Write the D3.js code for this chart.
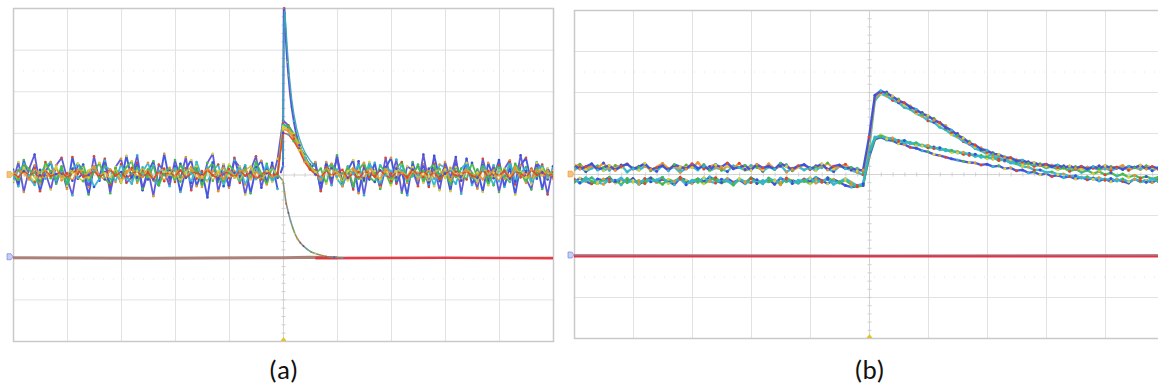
<!DOCTYPE html>
<html>
<head>
<meta charset="utf-8">
<script src="https://cdn.jsdelivr.net/npm/d3@7"></script>
<style>
  html, body { margin: 0; background: #ffffff; }
  svg { display: block; }
</style>
</head>
<body>
<svg id="chart" width="1158" height="390"></svg>
<script>
// Units: time and amplitude in hundredths of a screen division.
const sampleStart = -500;
const sampleStep = 10;

const xDivisions = [-500, -400, -300, -200, -100, 0, 100, 200, 300, 400, 500];
const yDivisions = [-400, -300, -200, -100, 0, 100, 200, 300, 400];
const panelLabels = ["(a)", "(b)"];

// ---- Panel (a): upper channel, overlaid acquisitions ----
const aBlue = [
  12, -28, 35, -8, 22, -40, 6, 30, -22, 15,
  -35, 42, -10, 4, -48, 18, -5, 38, -30, 10,
  -20, 45, -12, 28, -38, 5, 32, -25, 50, -15,
  20, -42, 12, 35, -28, 8, -55, 30, -18, 25,
  -32, 40, -8, 22, -45, 15, 33, -20, 28, -35,
  null, null, null, null, null, null, 25, -38, 30, -15,
  42, -28, 10, 35, -45, 20, -12, 28, -35, 15,
  40, -22, 8, -50, 30, -18, 25, -30, 45, -10,
  20, -40, 32, -15, 38, -25, 12, -42, 28, -8,
  35, -30, 18, -48, 22, 40, -20, 30, -35, 15,
  -10
];
const aViolet = [
  -18, 30, -42, 14, 48, -25, 5, -36, 22, 40,
  -8, -50, 26, 10, -30, 44, -15, 33, -45, 18,
  38, -20, -6, 46, -34, 12, -52, 24, 8, -28,
  35, -12, 42, -38, 16, -22, 28, 50, -40, 6,
  -26, 34, 18, -48, 10, 44, -32, 20, -14, 38,
  130, 118, 96, 64, 48, 12, 30, -40, 22, -26,
  46, -18, 14, -36, 32, -50, 24, 8, -30, 40,
  -12, 36, -44, 20, 10, -28, 48, -22, 16, -38,
  30, -8, 42, -46, 26, 4, -34, 38, -16, 22,
  -42, 14, 34, -24, 46, -10, -36, 28, 12, -48,
  20
];
const aCyan = [
  -15, 10, 22, -8, -25, 5, 18, 30, -12, 2,
  -20, 14, 26, -5, 8, -30, -10, 20, 12, -18,
  25, -4, -22, 16, 6, 28, -14, -26, 10, 3,
  -8, 22, 15, -20, 30, -6, -16, 8, 24, -28,
  12, -2, 20, -24, 6, 18, -10, 26, -18, 4,
  122, 112, 90, 66, 44, 16, 10, -20, 15, 25,
  -10, -28, 12, 4, 22, -16, 30, -6, -24, 18,
  8, -12, 26, -20, 2, 20, -14, 10, -28, 24,
  16, -8, -22, 14, 28, -4, -18, 22, 6, -26,
  12, -10, 30, -16, 4, 18, -22, 8, 24, -12,
  14
];
const aGreen = [
  8, -18, 26, 12, -6, -22, 30, 4, -14, 20,
  -28, 10, 2, 24, -16, 6, 28, -10, -24, 14,
  -4, 18, 32, -20, 10, -12, 22, -26, 6, 16,
  -18, 26, -8, 4, 20, -30, 12, 28, -6, -16,
  24, 8, -20, 14, -10, 30, 2, -24, 18, -8,
  118, 116, 98, 74, 36, 24, 2, 14, -22, 26,
  6, -14, 20, -28, 10, 28, -6, -18, 22, 4,
  -26, 16, 30, -10, -4, 24, -20, 12, 26, -16,
  8, -24, 18, 2, -12, 28, -8, 20, -26, 10,
  22, -4, -18, 26, 6, -20, 14, -10, 18, -2,
  8
];
const aYellow = [
  7, -12, 16, -3, -18, 11, 4, -9, 19, -14,
  2, 13, -7, -16, 9, 20, -5, 6, -11, 15,
  -19, 3, 12, -8, 17, -2, -13, 8, 14, -6,
  10, -17, 5, 18, -10, -1, 13, -15, 7, 16,
  -9, 4, -14, 11, 19, -6, -12, 3, 15, -4,
  115, 108, 94, 70, 40, 20, 6, -10, 17, -3,
  12, -18, 8, 15, -7, -13, 19, 2, -11, 10,
  -16, 14, 5, -4, 18, -12, 9, -19, 6, 13,
  -8, 16, -2, -14, 11, 3, -17, 12, 7, -9,
  15, -5, -12, 18, -1, 9, -15, 4, 14, -7,
  6
];
const aOrange = [
  -5, 10, 4, -12, 15, -2, -10, 8, 14, -6,
  2, -15, 12, 6, -8, 18, -4, -12, 10, 3,
  -14, 8, 16, -6, 0, 12, -10, 5, -16, 9,
  14, -4, -8, 11, 4, -14, 17, -2, 7, -11,
  13, -7, 2, 15, -12, 6, -3, 10, -9, 4,
  110, 104, 86, 62, 34, 14, 4, -12, 9, 15,
  -5, 3, -14, 11, 6, -9, 16, -3, -11, 13,
  2, -7, 10, -15, 8, 4, -6, 14, -10, 1,
  12, -13, 7, -2, 16, -8, 5, -12, 9, 3,
  -16, 11, -4, 13, -7, 6, -10, 15, -3, 8,
  -5
];
const aRed = [
  3, -6, 8, -2, 5, -9, 10, -4, 1, 7,
  -8, 4, 11, -5, -1, 9, -7, 3, 12, -3,
  6, -10, 2, 8, -6, 4, -12, 9, -1, 5,
  -4, 10, -8, 2, 7, -5, 11, -2, -9, 6,
  3, -7, 9, -3, 5, -11, 1, 8, -4, 2,
  100, 96, 80, 58, 30, 12, 0, -6, 9, -3,
  5, 11, -8, 2, -10, 7, 4, -5, 10, -2,
  -9, 6, 3, -7, 12, -1, 8, -4, 5, -11,
  2, 9, -6, 1, 7, -3, -8, 10, -5, 4,
  -2, 8, -10, 6, 3, -7, 11, -1, 5, -4,
  2
];
// fast spike captured at finer time resolution: [time, amplitude]
const aSpikeBlue = [
  [-4, 5], [0, 20], [0.5, 160], [1, 300], [1.5, 400], [2.5, 400], [3, 388],
  [4, 356], [6, 310], [8, 270], [10, 238], [13, 195], [16, 162], [20, 128],
  [24, 100], [28, 80], [34, 58], [40, 42], [46, 30], [52, 18], [60, 25]
];
const aSpikeCyan = [
  [0, 30], [1, 250], [2, 360], [3, 392], [5, 362], [8, 300], [12, 232],
  [16, 182], [20, 146], [25, 112], [30, 88], [36, 66], [42, 50], [50, 34], [60, 18]
];
// lower channel: decay from the upper level down to its own level
const aFall = [
  [-10, 0], [0, -15], [3, -45], [6, -70], [10, -92], [14, -112], [18, -128],
  [22, -142], [27, -155], [32, -164], [38, -172], [45, -180], [52, -186],
  [60, -190], [70, -194], [80, -197], [95, -199], [110, -200]
];
const aLowerBrown = [[-500, -200], [-250, -201], [0, -200], [50, -199], [100, -200]];
const aLowerRed = [[60, -201], [300, -200], [500, -201]];

// ---- Panel (b): upper channel, overlaid acquisitions ----
const bUpperLarge = [
  22, 12, 18, 25, 10, 16, 21, 9, 19, 24,
  13, 17, 26, 11, 15, 20, 8, 23, 18, 12,
  25, 14, 19, 10, 22, 17, 27, 13, 16, 21,
  9, 24, 15, 19, 12, 26, 18, 11, 20, 23,
  14, 17, 25, 10, 19, 22, 13, 16, 8, 10,
  90, 192, 203, 196, 190, 178, 174, 163, 158, 146,
  143, 131, 126, 113, 107, 94, 88, 75, 71, 60,
  58, 49, 48, 40, 40, 32, 34, 26, 28, 21,
  24, 18, 22, 15, 20, 14, 19, 12, 18, 13,
  21, 14, 17, 11, 19, 15, 22, 12, 18, 14,
  20
];
const bUpperOrange = [
  18, 24, 11, 20, 14, 27, 9, 21, 16, 25,
  12, 19, 23, 8, 17, 26, 13, 20, 10, 22,
  15, 28, 12, 18, 24, 9, 19, 14, 26, 11,
  21, 16, 10, 25, 13, 19, 23, 8, 17, 22,
  11, 20, 15, 27, 12, 18, 24, 10, 14, 6,
  75, 186, 199, 200, 185, 183, 168, 166, 152, 150,
  137, 136, 120, 118, 101, 99, 82, 80, 66, 64,
  53, 52, 43, 42, 35, 35, 29, 30, 24, 25,
  19, 22, 16, 20, 13, 18, 11, 17, 14, 20,
  12, 18, 15, 21, 10, 17, 13, 20, 16, 11,
  17
];
const bLowerLarge = [
  -12, -22, -15, -9, -20, -25, -13, -18, -10, -21,
  -16, -24, -11, -19, -14, -8, -23, -17, -12, -26,
  -15, -20, -9, -18, -22, -13, -16, -25, -11, -19,
  -21, -14, -24, -10, -17, -20, -12, -23, -15, -18,
  -9, -22, -16, -13, -25, -19, -11, -20, -28, -24,
  60, 180, 196, 190, 180, 174, 162, 158, 147, 141,
  130, 126, 114, 108, 96, 90, 79, 73, 62, 57,
  48, 45, 37, 34, 27, 25, 18, 17, 10, 10,
  4, 5, -1, 0, -6, -4, -10, -7, -13, -9,
  -15, -11, -17, -12, -19, -13, -16, -20, -12, -18,
  -14
];
const bUpperSmall = [
  10, 18, 6, 14, 20, 8, 16, 12, 22, 5,
  15, 9, 19, 13, 7, 21, 11, 17, 4, 14,
  18, 10, 23, 8, 15, 12, 6, 20, 16, 9,
  13, 19, 7, 17, 11, 22, 5, 14, 18, 10,
  16, 8, 21, 12, 6, 19, 15, 9, 4, -2,
  55, 90, 92, 86, 88, 80, 82, 74, 76, 68,
  70, 62, 64, 57, 58, 51, 53, 46, 48, 41,
  43, 36, 39, 32, 35, 28, 31, 24, 27, 21,
  24, 17, 21, 14, 19, 12, 17, 10, 16, 9,
  15, 8, 14, 18, 9, 16, 11, 19, 8, 15,
  12
];
const bLowerSmall = [
  -20, -10, -18, -24, -12, -16, -8, -22, -14, -19,
  -11, -25, -17, -9, -21, -13, -18, -26, -10, -15,
  -23, -12, -19, -7, -16, -22, -11, -20, -14, -24,
  -9, -17, -21, -13, -25, -10, -18, -15, -22, -12,
  -19, -8, -16, -24, -13, -20, -28, -32, -30, -26,
  40, 84, 90, 83, 81, 74, 72, 65, 63, 57,
  54, 48, 45, 41, 37, 34, 31, 28, 27, 22,
  24, 18, 20, 13, 15, 8, 10, 3, 5, -2,
  1, -6, -3, -9, -6, -12, -8, -14, -10, -17,
  -12, -19, -13, -18, -22, -12, -19, -15, -21, -13,
  -18
];
const bLowerRed = [
  -14, -21, -9, -18, -24, -12, -19, -15, -26, -11,
  -20, -16, -23, -10, -17, -25, -13, -19, -8, -22,
  -18, -12, -24, -15, -9, -21, -17, -27, -13, -20,
  -11, -23, -16, -19, -14, -26, -10, -18, -22, -15,
  -24, -13, -20, -9, -17, -22, -15, -26, -31, -28,
  48, 86, 95, 88, 84, 82, 76, 77, 70, 71,
  64, 66, 59, 60, 53, 55, 48, 50, 43, 45,
  38, 40, 33, 35, 28, 30, 23, 26, 19, 22,
  15, 18, 11, 15, 7, 12, 4, 9, 1, 6,
  -2, 3, -5, 0, -8, -3, -10, -6, -12, -8,
  -11
];
const bLowerGrayLine = [[-500, -197], [0, -198], [500, -197]];
const bLowerRedLine = [[-500, -201], [0, -201], [500, -201]];

// ---------------------------------------------------------------
const svg = d3.select("#chart");
const palette = ["#3b4fdc", "#33b6cf", "#45b84a", "#dccf3a", "#e8932e", "#e0452c"];

const sampled = values => values.map((v, i) => [sampleStart + i * sampleStep, v]);

function drawPanel(box, label, traces) {
  const x = d3.scaleLinear().domain([-500, 500]).range([box.left, box.right]);
  const y = d3.scaleLinear().domain([-400, 400]).range([box.bottom, box.top]);
  const g = svg.append("g");

  // graticule
  g.append("g").selectAll("line").data(xDivisions).join("line")
    .attr("x1", d => x(d) + 0.5).attr("x2", d => x(d) + 0.5)
    .attr("y1", box.top).attr("y2", box.bottom)
    .attr("stroke", d => d === 0 ? "#d4d4d4" : "#e2e2e2").attr("stroke-width", 1);
  g.append("g").selectAll("line").data(yDivisions).join("line")
    .attr("y1", d => y(d) + 0.5).attr("y2", d => y(d) + 0.5)
    .attr("x1", box.left).attr("x2", box.right)
    .attr("stroke", d => d === 0 ? "#d4d4d4" : "#e2e2e2").attr("stroke-width", 1);

  // faint dotted rows
  g.append("g").selectAll("line").data([-250, 250]).join("line")
    .attr("y1", d => y(d) + 0.5).attr("y2", d => y(d) + 0.5)
    .attr("x1", box.left).attr("x2", box.right)
    .attr("stroke", "#e4e4e4").attr("stroke-dasharray", "1,9");

  // minor ticks along the centre cross
  const minor = d3.range(-500, 501, 20);
  const minorY = d3.range(-400, 401, 20);
  g.append("g").selectAll("line").data(minor).join("line")
    .attr("x1", d => x(d) + 0.5).attr("x2", d => x(d) + 0.5)
    .attr("y1", y(0) - 1.5).attr("y2", y(0) + 2.5)
    .attr("stroke", "#cfcfcf");
  g.append("g").selectAll("line").data(minorY).join("line")
    .attr("y1", d => y(d) + 0.5).attr("y2", d => y(d) + 0.5)
    .attr("x1", x(0) - 1.5).attr("x2", x(0) + 2.5)
    .attr("stroke", "#cfcfcf");

  // frame
  g.append("rect")
    .attr("x", box.left + 0.5).attr("y", box.top + 0.5)
    .attr("width", box.right - box.left).attr("height", box.bottom - box.top)
    .attr("fill", "none").attr("stroke", "#c9c9c9").attr("stroke-width", 1.5);

  // traces
  const clipId = "clip-" + label.replace(/\W/g, "");
  svg.append("clipPath").attr("id", clipId).append("rect")
    .attr("x", box.left).attr("y", box.top - 1)
    .attr("width", box.right - box.left).attr("height", box.bottom - box.top + 2);
  const tg = g.append("g").attr("clip-path", `url(#${clipId})`);
  const line = d3.line().defined(d => d[1] !== null).x(d => x(d[0])).y(d => y(d[1]));

  traces.forEach(tr => {
    tg.append("path").datum(tr.points)
      .attr("d", line)
      .attr("fill", "none")
      .attr("stroke", tr.color)
      .attr("stroke-width", tr.width || 1.3)
      .attr("stroke-linejoin", "round")
      .attr("opacity", tr.opacity || 0.95);
    if (tr.dots !== undefined) {
      tg.append("g").selectAll("circle")
        .data(tr.points.filter(d => d[1] !== null)).join("circle")
        .attr("cx", d => x(d[0])).attr("cy", d => y(d[1]))
        .attr("r", tr.r || 1.3)
        .attr("fill", (d, i) => palette[(i + tr.dots) % palette.length]);
    }
  });

  // channel markers and trigger marker
  const mk = g.append("g");
  mk.append("path")
    .attr("d", `M${box.left - 6},${y(0) - 3}h4l2,3l-2,3h-4z`)
    .attr("fill", "#f4c27a").attr("stroke", "#e8a040").attr("stroke-width", 0.6);
  mk.append("path")
    .attr("d", `M${box.left - 6},${y(-200) - 4}h4l2,3l-2,3h-4z`)
    .attr("fill", "#c9cdf4").attr("stroke", "#6a72d8").attr("stroke-width", 0.6);
  mk.append("path")
    .attr("d", `M${x(0) + 0.5},${box.bottom - 4}l3,4h-6z`)
    .attr("fill", "#e6c21e");

  // caption
  svg.append("text")
    .attr("x", x(0) + 0.5).attr("y", 379)
    .attr("text-anchor", "middle")
    .attr("font-family", "Carlito, Lato, 'Open Sans', sans-serif")
    .attr("font-size", 27)
    .attr("fill", "#111")
    .text(label);
}

drawPanel({ left: 13, right: 553, top: 8, bottom: 341 }, panelLabels[0], [
  { points: aLowerBrown, color: "#a87a72", width: 3 },
  { points: aLowerRed, color: "#e0333c", width: 2.6 },
  { points: aFall, color: "#7f8c78", width: 1.6, dots: 2, r: 0.9 },
  { points: sampled(aBlue), color: palette[0], width: 1.9, dots: 0 },
  { points: sampled(aViolet), color: "#5a52d6", width: 1.8, dots: 2 },
  { points: aSpikeBlue, color: "#4b4fd8", width: 2, dots: 0, r: 0.9 },
  { points: aSpikeCyan, color: "#3aa8b8", width: 1.4 },
  { points: sampled(aCyan), color: palette[1], width: 1.8, dots: 3 },
  { points: sampled(aGreen), color: palette[2], width: 1.8, dots: 5 },
  { points: sampled(aYellow), color: "#c8c23a", width: 1.6, dots: 1 },
  { points: sampled(aOrange), color: palette[4], width: 1.6, dots: 1 },
  { points: sampled(aRed), color: palette[5], width: 1.5, dots: 4 }
]);

drawPanel({ left: 574, right: 1164, top: 10, bottom: 338 }, panelLabels[1], [
  { points: bLowerGrayLine, color: "#9a8c96", width: 1.6 },
  { points: bLowerRedLine, color: "#e0283c", width: 2.2 },
  { points: sampled(bLowerSmall), color: palette[0], width: 2.3, dots: 2, r: 1.5 },
  { points: sampled(bLowerRed), color: palette[2], width: 2.3, dots: 5, r: 1.5 },
  { points: sampled(bUpperSmall), color: palette[1], width: 2.3, dots: 4, r: 1.5 },
  { points: sampled(bLowerLarge), color: palette[1], width: 2.3, dots: 5, r: 1.5 },
  { points: sampled(bUpperOrange), color: palette[4], width: 2.2, dots: 1, r: 1.5 },
  { points: sampled(bUpperLarge), color: palette[0], width: 2.3, dots: 3, r: 1.5 }
]);
</script>
</body>
</html>
